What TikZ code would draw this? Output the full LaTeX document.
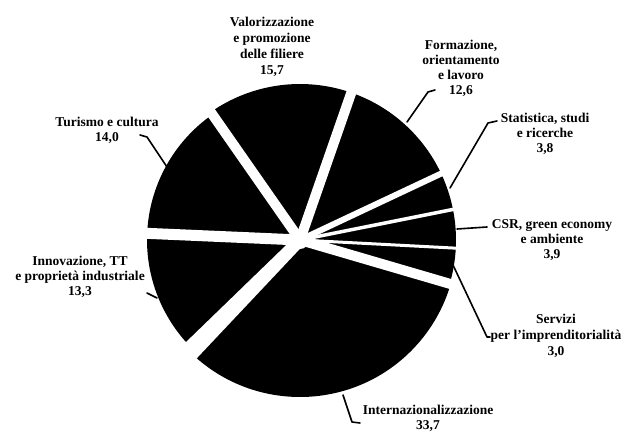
\documentclass[tikz,border=0pt]{standalone}
\usepackage{fontspec}
\setmainfont{Liberation Serif}
\usetikzlibrary{calc}
\begin{document}
\begin{tikzpicture}[x=1pt,y=1pt,
  gap/.style={draw=white,line cap=butt},
  lbl/.style={align=center,font=\fontsize{13.5}{15}\selectfont\bfseries,inner sep=0pt},
  lead/.style={draw=black,line width=1.6pt,line join=round,line cap=round}]
\useasboundingbox (0,0) rectangle (628,445);
\coordinate (c) at (300,205);
% slices: start angle / end angle / radius
\foreach \a/\b/\r in {70.8/124.9/156, 25.2/70.8/156, 11.3/25.2/156, -3/11.3/156,
                      -16.3/-3/156, -133.3/-16.3/157, 177.5/226.7/153, 124.9/177.5/153}
  \fill[black] (c) -- ++(\a:\r) arc (\a:\b:\r) -- cycle;
% white gaps
\foreach \a/\w in {124.9/10, 70.8/10, 25.2/6, 11.3/3.5, -3/3, -16.3/10, 177.5/11}
  \draw[gap,line width=\w pt] (c) -- ++(\a:175);
\fill[white] ($(c)+(316.7:6)$) -- ++(226.7:175) -- ++(136.7:20) -- ($(c)+(136.7:6)$) -- cycle;
\fill[white] (c) circle (9);
\fill[white] (c) -- ++(-16.3:12) arc (-16.3:25.2:12) -- cycle;
% labels
\node[lbl,font=\fontsize{13.5}{16}\selectfont\bfseries] (valo) at (272,398) {Valorizzazione\\e promozione\\delle filiere\\15,7};
\node[lbl] (form) at (461,377) {Formazione,\\orientamento\\e lavoro\\12,6};
\node[lbl] (stat) at (545,311) {Statistica, studi\\e ricerche\\3,8};
\node[lbl] (csr) at (552,205) {CSR, green economy\\e ambiente\\3,9};
\node[lbl,font=\fontsize{13.5}{16}\selectfont\bfseries] (serv) at (556,109) {Servizi\\per l'imprenditorialità\\3,0};
\node[lbl] (intl) at (428,27) {Internazionalizzazione\\33,7};
\node[lbl] (inno) at (80,168) {Innovazione, TT\\e proprietà industriale\\13,3};
\node[lbl] (turi) at (107,315) {Turismo e cultura\\14,0};
% leader coordinates
\coordinate (formA) at (435,355); \coordinate (formB) at (428,353); \coordinate (formP) at (407,323);
\coordinate (statA) at (497,324); \coordinate (statB) at (488,322); \coordinate (statP) at (450,257);
\coordinate (csrA) at (487,218); \coordinate (csrP) at (457,216);
\coordinate (servA) at (490,108); \coordinate (servB) at (487,108); \coordinate (servP) at (453,180);
\coordinate (intlA) at (360,22); \coordinate (intlB) at (352,23); \coordinate (intlP) at (343,50);
\coordinate (innoA) at (147,152); \coordinate (innoP) at (157,147);
\coordinate (turiA) at (140,310); \coordinate (turiB) at (147,308); \coordinate (turiP) at (167,278);
\draw[lead] (formA) -- (formB) -- (formP);
\draw[lead] (statA) -- (statB) -- (statP);
\draw[lead] (csrA) -- (csrP);
\draw[lead] (servA) -- (servB) -- (servP);
\draw[lead] (intlA) -- (intlB) -- (intlP);
\draw[lead] (innoA) -- (innoP);
\draw[lead] (turiA) -- (turiB) -- (turiP);
\end{tikzpicture}
\end{document}
